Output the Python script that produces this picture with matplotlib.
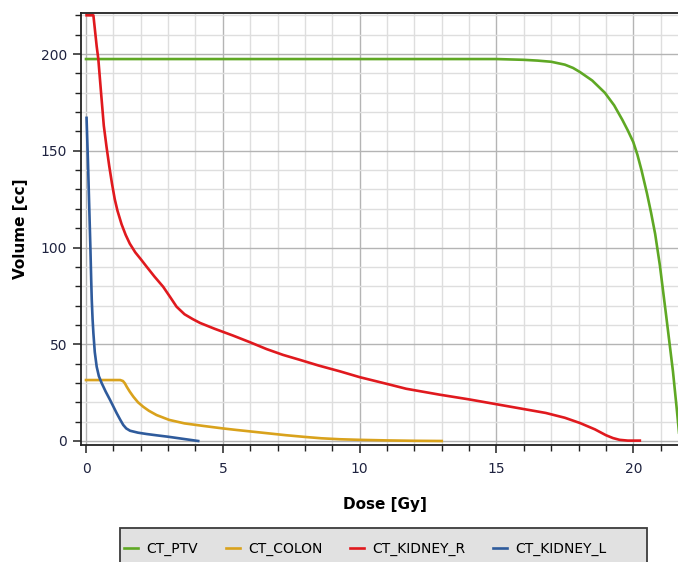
import matplotlib
matplotlib.use("Agg")
import matplotlib.pyplot as plt
from matplotlib.patches import Rectangle
from matplotlib.ticker import MultipleLocator

# dose [Gy] / volume [cc]
ptv_dose = [0, 15, 16, 16.5, 17, 17.5, 17.8, 18.05, 18.5, 18.96, 19.3, 19.6, 19.8, 20.0, 20.15,
            20.3, 20.5, 20.65, 20.8, 20.97, 21.2, 21.45, 21.6, 21.7]
ptv_vol = [197.4, 197.4, 197.0, 196.6, 196, 194.5, 192.8, 190.7, 186.3, 180, 173.5, 166, 160.5, 154.5, 148,
           140, 128, 118, 107, 91, 65, 36, 15, 0]

colon_dose = [0, 1.25, 1.35, 1.42, 1.49, 1.6, 1.73, 1.9, 2.09, 2.3, 2.58, 3.04, 3.6, 4.28, 5.0, 5.5,
              6.1, 6.7, 7.3, 8.0, 8.6, 9.28, 10.0, 11, 12, 13]
colon_vol = [31.5, 31.5, 31, 29.8, 28, 25.5, 22.9, 20, 17.7, 15.6, 13.4, 10.9, 9.1, 7.8, 6.5, 5.7,
             4.8, 3.9, 3.0, 2.1, 1.4, 0.9, 0.6, 0.3, 0.1, 0]

kidr_dose = [0.02, 0.27, 0.33, 0.39, 0.45, 0.55, 0.65, 0.75, 0.85, 0.95, 1.05, 1.15, 1.3, 1.45, 1.6,
             1.8, 2.0, 2.22, 2.5, 2.82, 3.07, 3.31, 3.6, 3.9, 4.17, 4.7, 5.37, 6.0, 6.6, 7.2, 7.8,
             8.5, 9.28, 10, 11, 11.7, 12.9, 14, 15, 16, 16.8, 17.5, 18.05, 18.6, 19.0, 19.26, 19.5,
             19.8, 20.24]
kidr_vol = [220, 220, 212, 204, 197.4, 180, 163, 152, 142, 133, 125, 119, 112, 106.5, 102,
            97.5, 94, 90, 85, 79.7, 74.5, 69.4, 65.5, 63, 61, 58, 54.5, 51, 47.5, 44.5, 42,
            39, 36, 33, 29.5, 27, 24, 21.5, 19, 16.5, 14.5, 12, 9.3, 6, 3, 1.5, 0.6,
            0.2, 0.2]

kidl_dose = [0.02, 0.07, 0.12, 0.16, 0.19, 0.21, 0.24, 0.27, 0.32, 0.39, 0.47, 0.57, 0.72, 0.88,
             1.0, 1.12, 1.25, 1.36, 1.47, 1.61, 1.9, 2.22, 2.6, 3.0, 3.5, 4.1]
kidl_vol = [167, 145, 120, 100, 83, 73, 63, 55.7, 46, 38.4, 33.5, 30, 25.5, 21.2,
            17.8, 14.4, 11, 8.3, 6.5, 5.3, 4.3, 3.6, 2.9, 2.2, 1.2, 0]

series = [
    ("CT_PTV", ptv_dose, ptv_vol, "#5fa824"),
    ("CT_COLON", colon_dose, colon_vol, "#d9a21c"),
    ("CT_KIDNEY_R", kidr_dose, kidr_vol, "#e0191e"),
    ("CT_KIDNEY_L", kidl_dose, kidl_vol, "#2f5b9c"),
]

W, H = 678, 562
fig = plt.figure(figsize=(W / 100, H / 100), dpi=100)
fig.patch.set_facecolor("white")

# axes in pixel terms: left 81, top 13, bottom 445, right runs off the image
ax = fig.add_axes([81 / W, (H - 445) / H, (688 - 81) / W, (445 - 13) / H])

for name, x, y, c in series:
    ax.plot(x, y, color=c, lw=1.9, label=name, solid_joinstyle="round")

ax.set_xlim(-0.183, 22.0)
ax.set_ylim(-2.07, 221.2)

ax.xaxis.set_major_locator(MultipleLocator(5))
ax.xaxis.set_minor_locator(MultipleLocator(1))
ax.yaxis.set_major_locator(MultipleLocator(50))
ax.yaxis.set_minor_locator(MultipleLocator(10))

ax.grid(which="major", color="#b4b4b4", lw=1.0)
ax.grid(which="minor", color="#dedede", lw=1.0)
ax.set_axisbelow(True)

for s in ["left", "bottom", "top"]:
    ax.spines[s].set_color("#222222")
    ax.spines[s].set_linewidth(1.3)
ax.spines["right"].set_visible(False)

ax.tick_params(which="major", direction="out", length=6, width=1.1, color="#222222",
               labelsize=10, labelcolor="#1f2340", pad=4)
ax.tick_params(which="minor", direction="out", length=4, width=1.0, color="#222222")
ax.tick_params(axis="x", which="major", pad=6)

ax.set_xlabel("Dose [Gy]", fontsize=11, fontweight="bold", labelpad=15)
ax.set_ylabel("Volume [cc]", fontsize=11, fontweight="bold", labelpad=9)

# legend box runs off the bottom of the image
fig.patches.append(Rectangle((120 / W, (H - 575) / H), (647 - 120) / W, 47 / H,
                             transform=fig.transFigure, facecolor="#e1e1e1",
                             edgecolor="#3c3c3c", lw=1.3, zorder=0))
handles, labels = ax.get_legend_handles_labels()
fig.legend(handles, labels, loc="center left", bbox_to_anchor=(124 / W, (H - 549) / H),
           ncol=4, frameon=False, fontsize=10, handlelength=1.0, handletextpad=0.6,
           columnspacing=2.0, borderpad=0, borderaxespad=0)

fig.savefig("out.png", dpi=100)
